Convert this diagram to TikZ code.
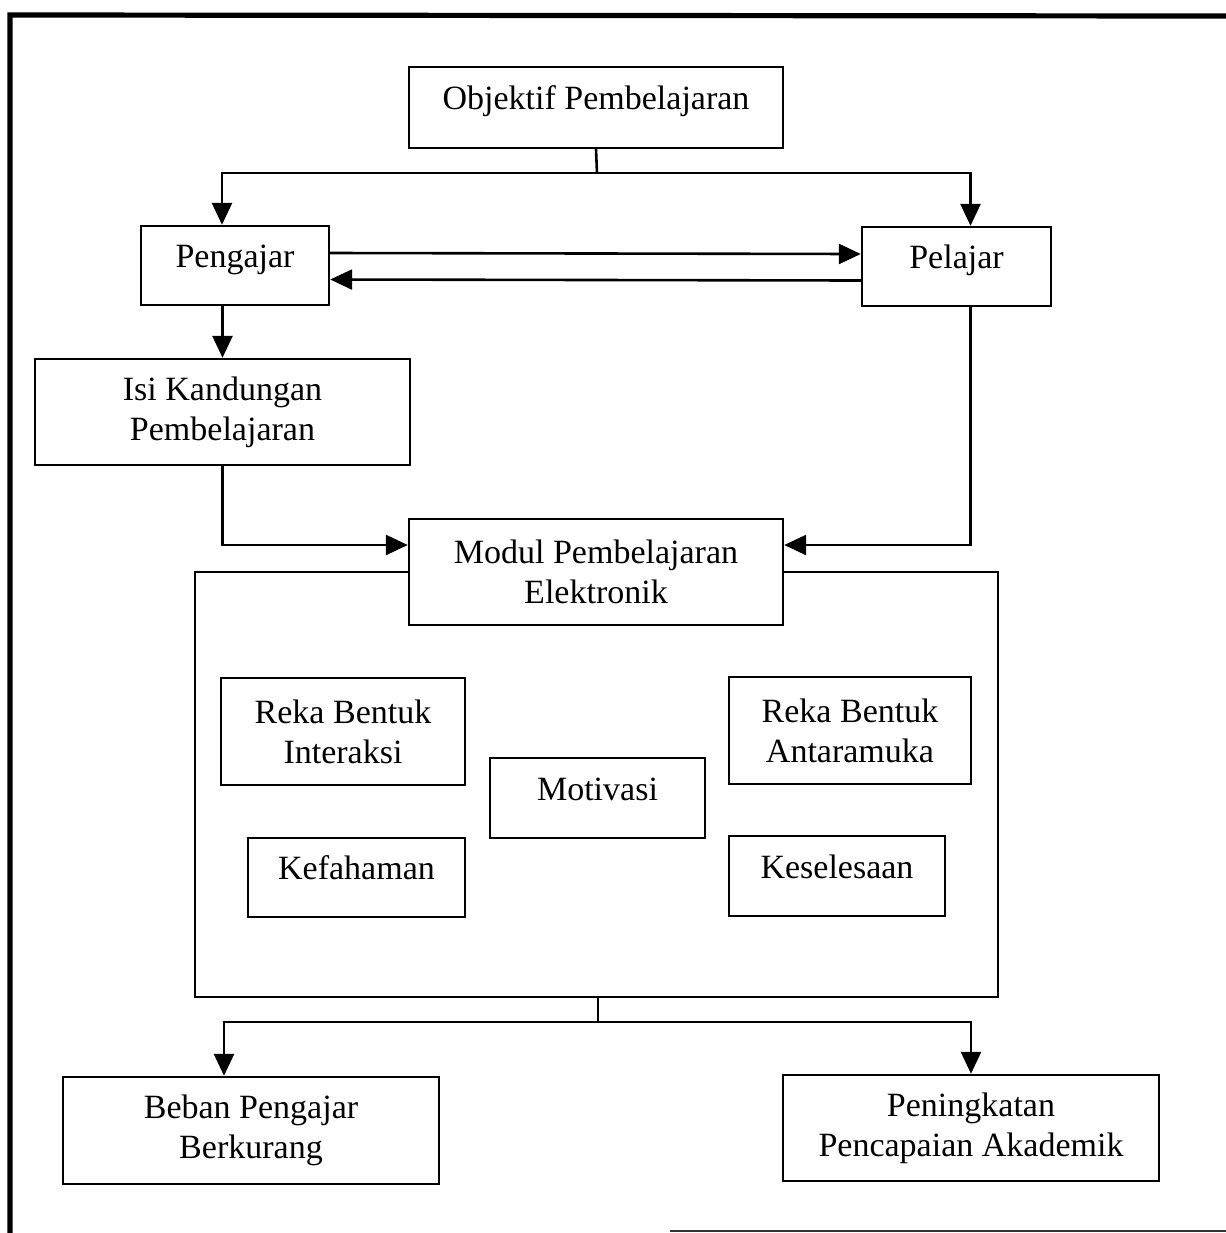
\documentclass[tikz,border=0pt]{standalone}
\usepackage{fontspec}
\setmainfont{Liberation Serif}
\usepackage{tikz}
\usetikzlibrary{positioning, calc, arrows.meta}

\begin{document}
\begin{tikzpicture}[x=0.5pt, y=-0.5pt, font=\fontsize{17}{20}\selectfont,
        kotak/.style={draw, line width=1.2pt, fill=white, align=center, inner sep=0pt},
        satubaris/.style={kotak, text height=12pt, text depth=10pt},
        garis/.style={line width=1.3pt},
        panah/.style={line width=1.3pt, -{Triangle[length=11pt, width=10pt]}}]
        \useasboundingbox (0,0) rectangle (1226,1233);
        \draw[line width=2.6pt] (10,1233) -- (10,15) -- (1226,16);
        \draw[line width=1pt, black!80] (670,1231) -- (1226,1231);
        \node[kotak, minimum width=401.5pt, minimum height=212.5pt] (wadah) at (596.5,784.5) {};
        \node[satubaris, minimum width=187pt, minimum height=40.5pt] (obj) at (596,107.5) {Objektif Pembelajaran};
        \node[satubaris, minimum width=94pt, minimum height=39.5pt] (pengajar) at (235,265.5) {Pengajar};
        \node[satubaris, minimum width=94.5pt, minimum height=39.5pt] (pelajar) at (956.5,266.5) {Pelajar};
        \node[kotak, minimum width=187.5pt, minimum height=53pt] (isi) at (222.5,412) {Isi Kandungan\\Pembelajaran};
        \node[kotak, minimum width=187pt, minimum height=53pt] (modul) at (596,572) {Modul Pembelajaran\\Elektronik};
        \node[kotak, minimum width=122pt, minimum height=53.5pt] (interaksi) at (343,731.5) {Reka Bentuk\\Interaksi};
        \node[satubaris, minimum width=107.5pt, minimum height=40pt] (motivasi) at (597.5,798) {Motivasi};
        \node[kotak, minimum width=121pt, minimum height=53.5pt] (antaramuka) at (850,730.5) {Reka Bentuk\\Antaramuka};
        \node[satubaris, minimum width=108.5pt, minimum height=39.5pt] (kefahaman) at (356.5,877.5) {Kefahaman};
        \node[satubaris, minimum width=108pt, minimum height=40pt] (keselesaan) at (837,876) {Keselesaan};
        \node[kotak, minimum width=188pt, minimum height=53.5pt] (beban) at (251,1130.5) {Beban Pengajar\\Berkurang};
        \node[kotak, minimum width=188pt, minimum height=53pt] (peningkatan) at (971,1128) {Peningkatan\\Pencapaian Akademik};
        \coordinate (cabang1) at (597,173);
        \coordinate (cabang2) at (598,1022);
        \draw[garis] (obj.south) -- (cabang1);
        \draw[panah] (cabang1) -| ([xshift=-6.5pt]pengajar.north);
        \draw[panah] (cabang1) -| ([xshift=7pt]pelajar.north);
        \draw[panah] ([yshift=6.25pt]pengajar.east) -- ([yshift=6.25pt]pelajar.west);
        \draw[panah] ([yshift=-7pt]pelajar.west) -- ([yshift=-7pt]pengajar.east);
        \draw[panah] (pengajar.south -| isi.north) -- (isi.north);
        \draw[panah] (isi.south) |- ([yshift=13.5pt]modul.west);
        \draw[panah] ([xshift=7pt]pelajar.south) |- ([yshift=13.5pt]modul.east);
        \draw[garis] (wadah.south -| cabang2) -- (cabang2);
        \draw[panah] (cabang2) -| ([xshift=-13.5pt]beban.north);
        \draw[panah] (cabang2) -| (peningkatan.north);
    \end{tikzpicture}
\end{document}
